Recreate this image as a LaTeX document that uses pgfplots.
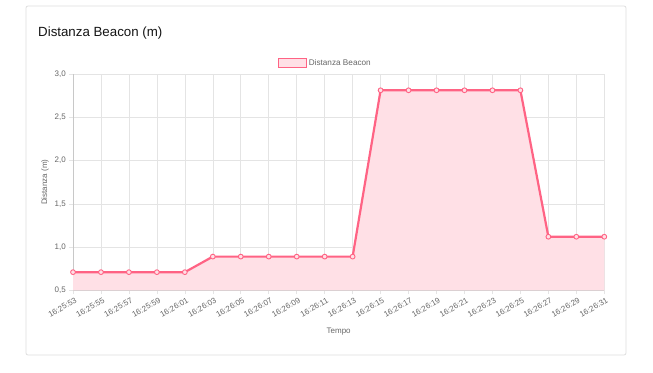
\documentclass[border=0pt]{standalone}
\usepackage{pgfplots}
\pgfplotsset{compat=1.18}
\usepackage{fontspec}
\setmainfont{Liberation Sans}
\definecolor{pinkline}{RGB}{255,99,132}
\definecolor{pinkfill}{RGB}{255,224,230}
\definecolor{gridc}{RGB}{228,228,228}
\definecolor{axisc}{RGB}{200,200,200}
\definecolor{textc}{RGB}{102,102,102}
\definecolor{cardc}{RGB}{222,222,222}
\pgfplotstableread{
x y
0 0.71
1 0.71
2 0.71
3 0.71
4 0.71
5 0.89
6 0.89
7 0.89
8 0.89
9 0.89
10 0.89
11 2.815
12 2.815
13 2.815
14 2.815
15 2.815
16 2.815
17 1.12
18 1.12
19 1.12
}\datatable
\begin{document}
\begin{tikzpicture}
\path[use as bounding box] (0pt,0pt) rectangle (653pt,372pt);
\draw[cardc, line width=0.8pt, rounded corners=2pt] (26pt,17pt) rectangle (626pt,366pt);
\node[anchor=base west, inner sep=0pt, font=\fontsize{13.3}{16}\selectfont, text={rgb,255:red,20;green,20;blue,20}] at (38pt,335pt) {Distanza Beacon (m)};
\coordinate (AX) at (73pt,81.7pt);
\begin{axis}[
  at={(AX)}, anchor=south west,
  scale only axis, width=531.3pt, height=216pt,
  xmin=0, xmax=19, ymin=0.5, ymax=3,
  xtick={0,...,19},
  xticklabels={16:25:53,16:25:55,16:25:57,16:25:59,16:26:01,16:26:03,16:26:05,16:26:07,16:26:09,16:26:11,16:26:13,16:26:15,16:26:17,16:26:19,16:26:21,16:26:23,16:26:25,16:26:27,16:26:29,16:26:31},
  ytick={0.5,1,1.5,2,2.5,3},
  yticklabel style={/pgf/number format/fixed, /pgf/number format/fixed zerofill, /pgf/number format/precision=1, /pgf/number format/use comma, /pgf/number format/assume math mode=true},
  yticklabel style={font=\fontsize{8}{9}\selectfont, text=textc, inner sep=1pt, xshift=-2pt},
  xticklabel style={font=\fontsize{8}{9}\selectfont, text=textc, rotate=30, anchor=north east, inner sep=1pt, yshift=-2pt, xshift=1pt},
  axis x line*=bottom, axis y line*=left,
  axis line style={axisc, line width=0.6pt, -},
  grid=major,
  major grid style={gridc, line width=0.6pt},
  tick style={gridc, line width=0.6pt},
  tick align=outside, major tick length=4pt,
  xlabel={Tempo}, ylabel={Distanza (m)},
  every axis x label/.style={at={(axis description cs:0.5,-0.193)}, anchor=center, font=\fontsize{8}{9}\selectfont, text=textc},
  every axis y label/.style={at={(axis description cs:-0.0527,0.5)}, rotate=90, anchor=center, font=\fontsize{8}{9}\selectfont, text=textc},
  legend style={at={(axis description cs:0.4746,1.052)}, anchor=center, draw=none, fill=none, font=\fontsize{8.2}{9}\selectfont, text=textc, inner sep=0pt},
  legend cell align=left,
  clip=true,
]
\addplot[fill=pinkfill, draw=none, forget plot] table[x=x,y=y]{\datatable} \closedcycle;
\addplot[pinkline, line width=2.2pt, mark=*, mark size=2.4pt,
  mark options={fill=pinkfill, draw=pinkline, line width=0.9pt},
  legend image code/.code={\draw[pinkline, fill=pinkfill, line width=1.3pt] (0pt,-4.3pt) rectangle (28pt,4.3pt);}
] table[x=x,y=y]{\datatable};
\addlegendentry{Distanza Beacon}
\end{axis}
\end{tikzpicture}
\end{document}
